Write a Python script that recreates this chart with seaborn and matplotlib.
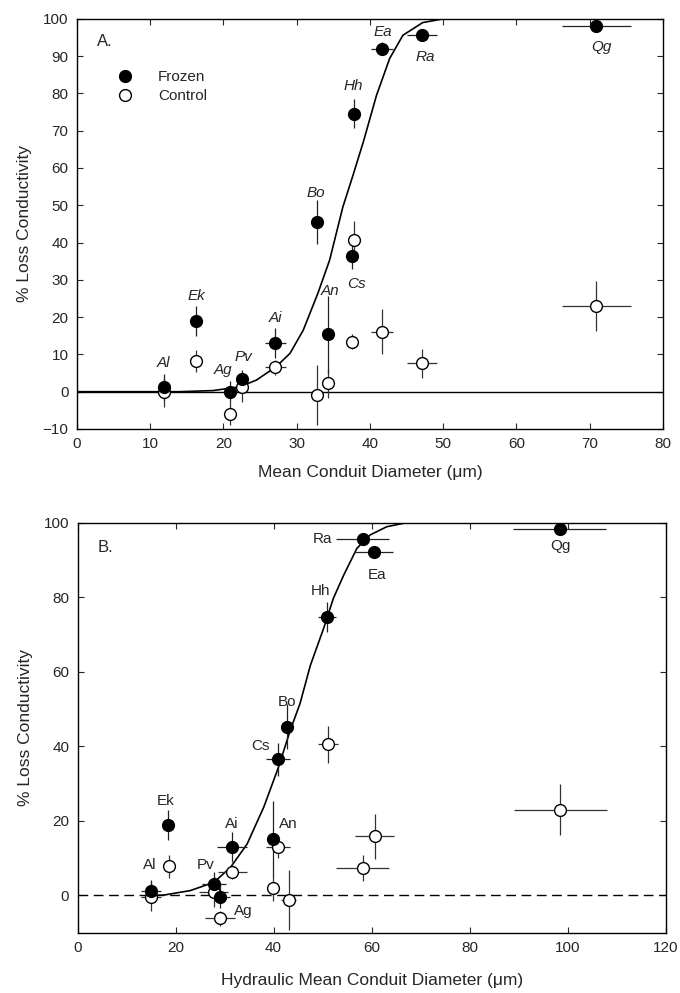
import matplotlib
matplotlib.use("Agg")
import matplotlib.pyplot as plt
import seaborn as sns
import pandas as pd
from matplotlib.lines import Line2D

# ---------------- data ----------------
species = ["Al", "Ek", "Ag", "Pv", "Ai", "Bo", "An", "Cs", "Hh", "Ea", "Ra", "Qg"]

# Panel A: mean conduit diameter
a_x = [11.9, 16.3, 20.9, 22.5, 27.1, 32.8, 34.3, 37.6, 37.8, 41.6, 47.1, 70.9]
a_xerr = [0.3, 0.3, 0.3, 0.4, 1.4, 0.3, 0.4, 0.7, 0.3, 1.5, 2.1, 4.7]
a_frozen = [1.3, 19.0, 0.0, 3.4, 13.1, 45.5, 15.4, 36.5, 74.6, 92.0, 95.6, 98.0]
a_frozen_err = [3.5, 4.0, 3.0, 2.5, 4.0, 5.8, 10.4, 3.5, 4.0, 1.8, 1.5, 0.5]
a_control = [-0.2, 8.2, -6.0, 1.2, 6.5, -0.9, 2.2, 13.4, 40.7, 16.1, 7.6, 23.0]
a_control_err = [4.0, 3.0, 3.0, 4.0, 2.0, 8.0, 4.0, 2.0, 5.0, 6.0, 3.8, 6.6]

# Panel B: hydraulic mean conduit diameter
b_x_frozen = [15.0, 18.4, 29.1, 27.8, 31.5, 42.8, 39.9, 40.9, 50.9, 60.4, 58.2, 98.4]
b_x_control = [15.0, 18.6, 29.1, 27.8, 31.6, 43.1, 40.9, 39.9, 51.1, 60.6, 58.2, 98.5]
b_xerr_frozen = [2.0, 1.0, 2.0, 2.5, 3.1, 1.0, 1.0, 2.4, 1.9, 3.9, 5.4, 9.5]
b_xerr_control = [2.0, 1.0, 3.0, 3.0, 3.0, 1.5, 2.4, 0.5, 2.0, 3.9, 5.4, 9.5]
b_frozen = [1.1, 18.9, -0.3, 3.2, 12.9, 45.3, 15.2, 36.5, 74.7, 92.0, 95.6, 98.2]
b_frozen_err = [3.0, 4.0, 3.0, 3.0, 4.0, 6.0, 10.0, 4.5, 4.0, 1.5, 1.5, 0.5]
b_control = [-0.3, 7.8, -6.1, 1.0, 6.4, -1.2, 13.1, 2.0, 40.5, 15.9, 7.4, 23.0]
b_control_err = [4.0, 3.0, 2.0, 4.0, 2.0, 8.0, 3.0, 3.5, 5.0, 6.0, 3.5, 6.8]

# Fitted curves
a_curve_x = [0, 10, 14, 18.6, 22.2, 24.5, 27.2, 29.1, 30.9, 32.9, 34.5, 36.3, 37.7,
             39.1, 40.9, 42.7, 44.5, 47.2, 50.0]
a_curve_y = [0, 0, 0, 0.3, 1.3, 3.1, 6.7, 10.3, 16.5, 26.4, 35.3, 49.5, 58.1,
             67.0, 79.5, 89.4, 95.6, 99.0, 100]
b_curve_x = [14.8, 17.6, 23.0, 27.8, 31.2, 34.6, 38.0, 41.0, 43.4, 45.4, 47.5, 50.2,
             52.2, 54.3, 57.0, 59.7, 63.1, 67.2]
b_curve_y = [0, 0.1, 1.3, 3.5, 7.5, 13.8, 23.7, 34.4, 44.3, 51.5, 61.7, 71.6,
             79.7, 85.9, 93.1, 96.7, 98.9, 100]

# label offsets (pixels) relative to the frozen points
a_label_off = {"Al": (-1, 24), "Ek": (0, 25), "Ag": (-7, 22), "Pv": (2, 22), "Ai": (0, 25),
               "Bo": (-1, 29), "An": (2, 43), "Cs": (4, -28), "Hh": (-1, 28), "Ea": (1, 17),
               "Ra": (3, -22), "Qg": (5, -21)}
b_label_off = {"Al": (-1, 26), "Ek": (-2, 24), "Ag": (23, -14), "Pv": (-8, 19), "Ai": (0, 23),
               "Bo": (0, 25), "An": (15, 15), "Cs": (-17, 13), "Hh": (-7, 26), "Ea": (3, -23),
               "Ra": (-40, 0), "Qg": (1, -17)}

# ---------------- style ----------------
sns.set_style("ticks")
plt.rcParams["font.family"] = ["Liberation Sans", "DejaVu Sans"]
plt.rcParams["axes.linewidth"] = 1.0

fig = plt.figure(figsize=(6.8, 9.93), dpi=100)
axA = fig.add_axes([0.113, 0.568, 0.862, 0.413])
axB = fig.add_axes([0.114, 0.0607, 0.865, 0.413])

MS = 8.5


def draw_panel(ax, xf, xc, xef, xec, yf, yef, yc, yec, cx, cy, offs, italic, dashed):
    # zero line
    ax.axhline(0, color="black", lw=1.0, ls=(0, (7, 4)) if dashed else "-", zorder=1)
    # curve
    sns.lineplot(x=cx, y=cy, ax=ax, color="black", lw=1.2, zorder=2, sort=False,
                 estimator=None)
    # error bars
    ax.errorbar(xc, yc, xerr=xec, yerr=yec, fmt="none", ecolor="#333333",
                elinewidth=0.9, capsize=0, zorder=3)
    ax.errorbar(xf, yf, xerr=xef, yerr=yef, fmt="none", ecolor="#222222",
                elinewidth=0.9, capsize=0, zorder=3)
    dfc = pd.DataFrame({"x": xc, "y": yc})
    dff = pd.DataFrame({"x": xf, "y": yf})
    sns.scatterplot(data=dfc, x="x", y="y", ax=ax, s=MS ** 2, color="white",
                    edgecolor="black", linewidth=1.0, zorder=4, legend=False)
    sns.scatterplot(data=dff, x="x", y="y", ax=ax, s=MS ** 2, color="black",
                    edgecolor="black", linewidth=1.0, zorder=5, legend=False)
    for name, x, y in zip(species, xf, yf):
        dx, dy = offs[name]
        ax.annotate(name, (x, y), xytext=(dx, dy), textcoords="offset pixels",
                    ha="center", va="center", fontsize=11,
                    style="italic" if italic else "normal", zorder=6)
    ax.tick_params(direction="in", top=True, right=True, length=4, width=0.8,
                   labelsize=11, pad=6)
    ax.set_ylabel("% Loss Conductivity", fontsize=12.5, labelpad=8)


draw_panel(axA, a_x, a_x, a_xerr, a_xerr, a_frozen, a_frozen_err, a_control,
           a_control_err, a_curve_x, a_curve_y, a_label_off, True, False)
axA.set_xlim(0, 80)
axA.set_ylim(-10, 100)
axA.set_xticks(range(0, 81, 10))
axA.set_yticks(range(-10, 101, 10))
axA.set_xlabel("Mean Conduit Diameter (\u03bcm)", fontsize=12.5, labelpad=10)
axA.text(0.034, 0.944, "A.", transform=axA.transAxes, fontsize=12, ha="left", va="center")

handles = [Line2D([], [], marker="o", ls="none", ms=MS, mfc="black", mec="black"),
           Line2D([], [], marker="o", ls="none", ms=MS, mfc="white", mec="black")]
axA.legend(handles, ["Frozen", "Control"], loc="upper left", bbox_to_anchor=(0.045, 0.89),
           frameon=False, fontsize=11, handletextpad=1.2, labelspacing=0.35,
           borderaxespad=0)

draw_panel(axB, b_x_frozen, b_x_control, b_xerr_frozen, b_xerr_control, b_frozen,
           b_frozen_err, b_control, b_control_err, b_curve_x, b_curve_y, b_label_off,
           False, True)
axB.set_xlim(0, 120)
axB.set_ylim(-10, 100)
axB.set_xticks(range(0, 121, 20))
axB.set_yticks(range(0, 101, 20))
axB.set_xlabel("Hydraulic Mean Conduit Diameter (\u03bcm)", fontsize=12.5, labelpad=13)
axB.text(0.034, 0.94, "B.", transform=axB.transAxes, fontsize=12, ha="left", va="center")

for ax in (axA, axB):
    for s in ax.spines.values():
        s.set_color("black")

fig.savefig("out.png", dpi=100)
